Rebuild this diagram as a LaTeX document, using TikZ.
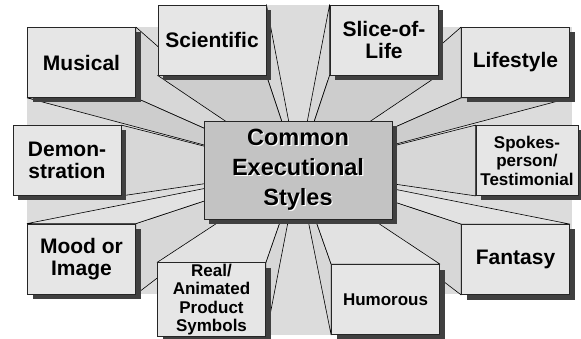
\documentclass[tikz,border=0pt]{standalone}
\usepackage{fontspec}
\setmainfont{Liberation Sans}
\usepackage{xcolor}
\usetikzlibrary{calc,shadows,backgrounds}
\definecolor{cBox}{HTML}{E6E6E6}
\definecolor{cHub}{HTML}{C3C3C3}
\definecolor{cShade}{HTML}{404040}
\definecolor{cBack}{HTML}{DCDCDC}
\definecolor{cTop}{HTML}{E2E2E2}
\definecolor{cSide}{HTML}{D7D7D7}
\definecolor{cBot}{HTML}{CDCDCD}
\tikzset{
  sbox/.style={draw=black!85,fill=cBox,line width=0.8pt,minimum width=108pt,minimum height=70pt,inner sep=1pt,align=center,
    font=\fontsize{21}{22}\selectfont\bfseries,drop shadow={shadow xshift=5pt,shadow yshift=-5pt,fill=cShade,opacity=1}},
  ssmall/.style={sbox,font=\fontsize{17}{18.5}\selectfont\bfseries},
  hub/.style={sbox,fill=cHub,minimum width=188pt,minimum height=98pt,font=\fontsize{23.5}{30}\selectfont\bfseries},
  beamf/.style={fill=#1,draw=black,line width=0.6pt,line join=round},
}
\newcommand{\vs}{0.25}
% node, corner, corner, colour
\newcommand{\beamface}[4]{%
  \filldraw[beamf=#4] (#1.#2) -- (#1.#3) -- ($(vp)!\vs!(#1.#3)$) -- ($(vp)!\vs!(#1.#2)$) -- cycle;}
\newcommand{\emb}[1]{\rlap{\textcolor{white}{\hspace{1.2pt}\raisebox{-1.2pt}{#1}}}#1}
\begin{document}
\begin{tikzpicture}[x=1pt,y=-1pt]
  \useasboundingbox (0,0) rectangle (581,339);
  \coordinate (vp) at (298,170);
  \node[hub] (hub) at (298,170) {\emb{Common}\\\emb{Executional}\\\emb{Styles}};
  \node[sbox] (mus) at (81.5,62.5) {Musical};
  \node[sbox] (sci) at (212,40) {Scientific};
  \node[sbox] (sol) at (384,40) {Slice-of-\\Life};
  \node[sbox] (life) at (515.5,62.5) {Lifestyle};
  \node[sbox] (demo) at (67,160.5) {Demon-\\stration};
  \node[ssmall,minimum width=102pt] (spok) at (527,160.5) {Spokes-\\person/\\Testimonial};
  \node[sbox] (mood) at (81.5,259) {Mood or\\Image};
  \node[ssmall] (real) at (211.5,299.5) {Real/\\Animated\\Product\\Symbols};
  \node[ssmall] (hum) at (385.5,299.5) {Humorous};
  \node[sbox] (fan) at (515.5,259.5) {Fantasy};
  \begin{scope}[on background layer]
    \fill[cBack] (sci.north west) rectangle (hum.south east);
    \fill[cBack] (mus.north west) rectangle (572,294);
    \beamface{mus}{north east}{south east}{cSide}
    \beamface{mus}{south west}{south east}{cBot}
    \beamface{life}{north west}{south west}{cSide}
    \beamface{life}{south west}{south east}{cBot}
    \beamface{mood}{north east}{south east}{cSide}
    \beamface{mood}{north west}{north east}{cTop}
    \beamface{fan}{north west}{south west}{cSide}
    \beamface{fan}{north west}{north east}{cTop}
    \beamface{demo}{north east}{south east}{cSide}
    \beamface{spok}{north west}{south west}{cSide}
    \beamface{sci}{north east}{south east}{cSide}
    \beamface{sci}{south west}{south east}{cBot}
    \beamface{sol}{north west}{south west}{cSide}
    \beamface{sol}{south west}{south east}{cBot}
    \beamface{real}{north east}{south east}{cSide}
    \beamface{real}{north west}{north east}{cTop}
    \beamface{hum}{north west}{south west}{cSide}
    \beamface{hum}{north west}{north east}{cTop}
  \end{scope}
\end{tikzpicture}
\end{document}
